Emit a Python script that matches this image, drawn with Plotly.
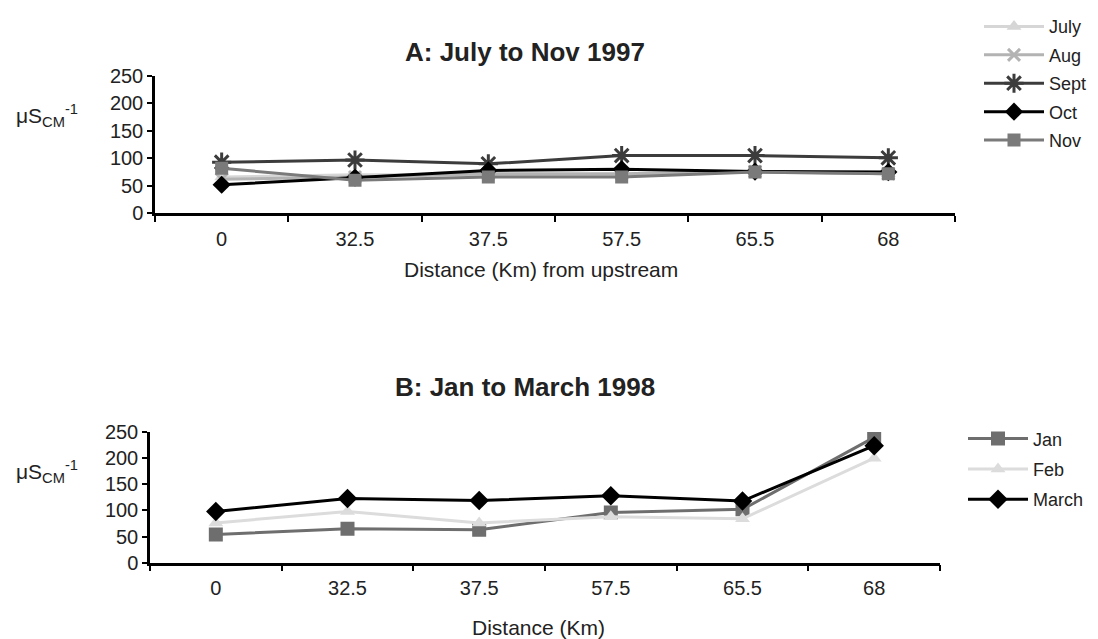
import plotly.graph_objects as go

# ---- data ----
distances = ["0", "32.5", "37.5", "57.5", "65.5", "68"]

july = [66, 70, 70, 70, 75, 72]
aug = [62, 66, 72, 72, 76, 72]
sept = [93, 97, 90, 105, 105, 101]
octo = [52, 65, 78, 80, 76, 75]
nov = [82, 60, 66, 66, 75, 72]

jan = [54, 65, 63, 96, 102, 240]
feb = [76, 98, 76, 88, 84, 200]
march = [98, 123, 119, 128, 118, 224]

# page body has an 8px margin: screen = figure + 8
OFF = 8
W, H = 1098, 639
FONT = "Liberation Sans, Arial, sans-serif"


def xp(sx):
    return (sx - OFF) / W


def yp(sy):
    return 1 - (sy - OFF) / H


fig = go.Figure()


def add(x, y, name, color, symbol, xa, ya, legend, size=12, lw=3, mline=None):
    marker = dict(symbol=symbol, size=size, color=color)
    if mline is not None:
        marker["line"] = mline
    fig.add_trace(go.Scatter(
        x=x, y=y, name=name, mode="lines+markers",
        line=dict(color=color, width=lw), marker=marker,
        xaxis=xa, yaxis=ya, legend=legend, legendgroup=name))


# top panel
add(distances, july, "July", "#d6d6d6", "triangle-up", "x", "y", "legend", size=13)
add(distances, aug, "Aug", "#b3b3b3", "x-thin-open", "x", "y", "legend", size=12,
    mline=dict(color="#b3b3b3", width=3))
add(distances, sept, "Sept", "#3c3c3c", "asterisk-open", "x", "y", "legend", size=16,
    mline=dict(color="#3c3c3c", width=3))
add(distances, octo, "Oct", "#000000", "diamond", "x", "y", "legend", size=14)
add(distances, nov, "Nov", "#7a7a7a", "square", "x", "y", "legend", size=13)

# bottom panel
add(distances, jan, "Jan", "#6e6e6e", "square", "x2", "y2", "legend2", size=14)
add(distances, feb, "Feb", "#dcdcdc", "triangle-up", "x2", "y2", "legend2", size=13)
add(distances, march, "March", "#000000", "diamond", "x2", "y2", "legend2", size=15)

TICKFONT = dict(family=FONT, size=20, color="#222")


def xaxis(domain, anchor):
    return dict(domain=domain, anchor=anchor, type="category",
                categoryorder="array", categoryarray=distances,
                range=[-0.5, 5.5], tickson="boundaries",
                showline=True, linecolor="black", linewidth=2.5,
                ticks="outside", ticklen=6, tickwidth=2, tickcolor="black",
                ticklabelstandoff=6,
                showgrid=False, zeroline=False, automargin=False,
                tickfont=TICKFONT)


def yaxis(domain, anchor):
    return dict(domain=domain, anchor=anchor, range=[0, 250],
                tickvals=[0, 50, 100, 150, 200, 250],
                showline=True, linecolor="black", linewidth=2.5,
                ticks="outside", ticklen=5, tickwidth=2, tickcolor="black",
                showgrid=False, zeroline=False, automargin=False,
                tickfont=TICKFONT)


LEGFONT = dict(family=FONT, size=18, color="#222")

fig.update_layout(
    width=W, height=H,
    margin=dict(l=0, r=0, t=0, b=0),
    paper_bgcolor="white", plot_bgcolor="white",
    font=dict(family=FONT, size=18, color="#222"),
    xaxis=xaxis([xp(155), xp(955)], "y"),
    yaxis=yaxis([yp(205), yp(65)], "x"),
    xaxis2=xaxis([xp(150), xp(940)], "y2"),
    yaxis2=yaxis([yp(561), yp(428)], "x2"),
    legend=dict(x=xp(979), y=yp(-4), xanchor="left", yanchor="top",
                font=LEGFONT, itemwidth=60, tracegroupgap=2,
                bgcolor="rgba(0,0,0,0)"),
    legend2=dict(x=xp(963), y=yp(416), xanchor="left", yanchor="top",
                 font=LEGFONT, itemwidth=60, tracegroupgap=4,
                 bgcolor="rgba(0,0,0,0)"),
    showlegend=True,
)


def note(text, sx, sy, size, bold=False):
    fig.add_annotation(text=f"<b>{text}</b>" if bold else text,
                       x=xp(sx), y=yp(sy), xref="paper", yref="paper",
                       xanchor="center", yanchor="middle", showarrow=False,
                       font=dict(family=FONT, size=size, color="#222"))


note("A: July to Nov 1997", 525, 41, 26, bold=True)
note("B: Jan to March 1998", 525, 382, 26, bold=True)
note("Distance (Km) from upstream", 541, 262, 21)
note("Distance (Km)", 538, 627, 21)
for yy in (105, 468):
    note("μS<sub>CM</sub><sup>-1</sup>", 47, yy, 21)

fig.write_html("out.html")
